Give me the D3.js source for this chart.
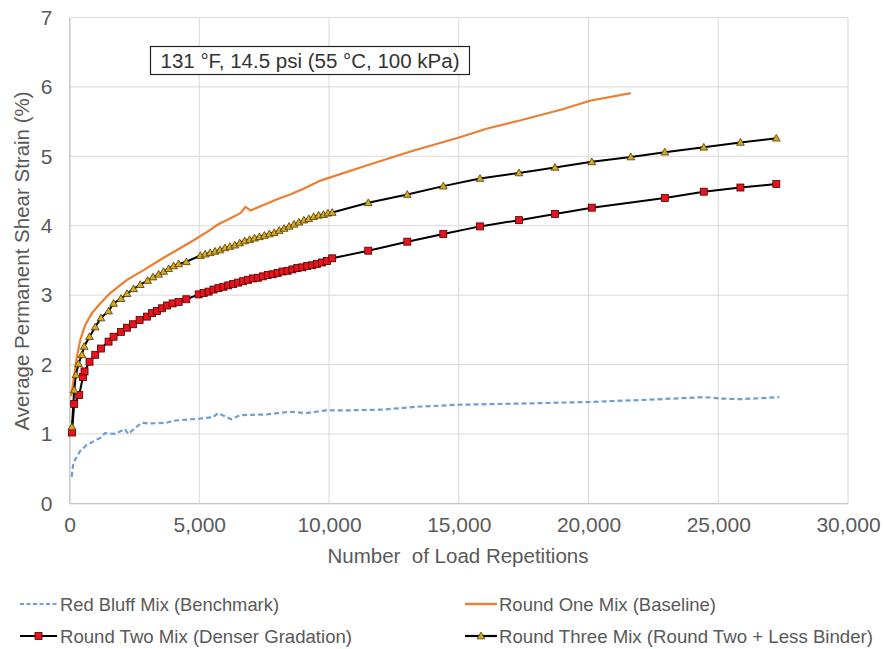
<!DOCTYPE html>
<html><head><meta charset="utf-8">
<script src="https://cdn.jsdelivr.net/npm/d3@7"></script>
<style>body{margin:0;background:#fff;} svg{display:block;font-family:"Liberation Sans",Arial,sans-serif;}</style>
</head><body><svg id="c" width="883" height="649"></svg>
<script>
// ---- data ----
const xTicks = [0,5000,10000,15000,20000,25000,30000];
const yTicks = [0,1,2,3,4,5,6,7];
const seriesNames = ["Red Bluff Mix (Benchmark)","Round One Mix (Baseline)","Round Two Mix (Denser Gradation)","Round Three Mix (Round Two + Less Binder)"];

const redBluffX = [85,147,404,660,1173,1365,1750,2135,2260,2776,3096,3738,3993,5019,5530,5723,6238,6558,7584,8480,9123,9892,10788,12070,13353,13916,15008,17774,20023,22145,24460,25039,25875,27353];
const redBluffY = [0.38,0.58,0.75,0.84,0.94,1.01,1.00,1.07,1.00,1.16,1.15,1.16,1.19,1.22,1.24,1.30,1.21,1.27,1.28,1.32,1.30,1.34,1.34,1.35,1.39,1.40,1.42,1.44,1.46,1.49,1.53,1.51,1.50,1.53];

const roundOneX = [66,155,285,413,606,864,1184,1570,2215,2855,3499,4143,4787,5428,5685,6586,6779,6972,7615,8000,8500,9000,9672,11474,13144,15008,16103,17388,18931,20062,21632];
const roundOneY = [1.54,1.78,2.11,2.35,2.57,2.74,2.88,3.03,3.22,3.36,3.51,3.65,3.79,3.94,4.01,4.18,4.27,4.22,4.32,4.38,4.45,4.53,4.65,4.87,5.07,5.27,5.40,5.52,5.67,5.80,5.91];

const roundTwoX = [93,181,374,517,579,772,992,1211,1505,1698,1983,2215,2446,2701,2986,3179,3372,3565,3758,3974,4205,4502,4977,
  5170,5360,5550,5740,5930,6120,6310,6500,6690,6880,7070,7260,7450,7640,7830,8020,8210,8400,8590,8780,8970,9160,9350,9540,9730,9920,10123,
  11512,13017,14405,15818,17323,18711,20127,22942,24442,25854,27238];
const roundTwoY = [1.02,1.43,1.56,1.82,1.90,2.04,2.14,2.23,2.33,2.40,2.47,2.53,2.58,2.64,2.69,2.74,2.77,2.81,2.85,2.88,2.90,2.94,3.01,
  3.03,3.05,3.08,3.10,3.12,3.14,3.16,3.18,3.20,3.22,3.24,3.25,3.27,3.29,3.30,3.32,3.34,3.35,3.37,3.39,3.40,3.42,3.43,3.45,3.47,3.49,3.53,
  3.64,3.77,3.88,3.99,4.08,4.17,4.26,4.40,4.49,4.55,4.60];

const roundThreeX = [93,181,247,347,478,567,772,992,1211,1505,1698,1983,2215,2469,2728,3009,3217,3434,3627,3820,4012,4205,4502,5042,
  5230,5420,5610,5800,5990,6180,6370,6560,6750,6940,7130,7320,7510,7700,7890,8080,8270,8460,8650,8840,9030,9220,9410,9600,9790,9960,10123,
  11512,13017,14405,15818,17323,18711,20127,21632,22942,24442,25854,27238];
const roundThreeY = [1.10,1.63,1.85,2.01,2.14,2.26,2.40,2.54,2.67,2.77,2.88,2.95,3.02,3.09,3.15,3.21,3.26,3.30,3.34,3.38,3.42,3.45,3.48,3.57,
  3.59,3.61,3.63,3.65,3.68,3.70,3.72,3.75,3.78,3.80,3.82,3.84,3.86,3.88,3.90,3.93,3.96,3.99,4.02,4.05,4.08,4.10,4.13,4.15,4.16,4.18,4.19,
  4.33,4.45,4.57,4.68,4.76,4.84,4.92,4.99,5.06,5.13,5.20,5.26];

// ---- drawing ----
const svg = d3.select("#c");
const L = 69.5, R = 848, T = 17.5, B = 503.3;
const x = d3.scaleLinear().domain([0,30000]).range([L,R]);
const y = d3.scaleLinear().domain([0,7]).range([B,T]);
const gridC = "#d9d9d9", txtC = "#595959";

// grid
svg.append("g").selectAll("line").data(yTicks).join("line")
  .attr("x1",L).attr("x2",R).attr("y1",d=>y(d)).attr("y2",d=>y(d))
  .attr("stroke",gridC).attr("stroke-width",1);
svg.append("g").selectAll("line").data(xTicks).join("line")
  .attr("y1",T).attr("y2",B).attr("x1",d=>x(d)).attr("x2",d=>x(d))
  .attr("stroke",gridC).attr("stroke-width",1);

// axes
const fmt = d3.format(",");
const xa = svg.append("g").attr("transform",`translate(0,${B})`)
  .call(d3.axisBottom(x).tickValues(xTicks).tickFormat(fmt).tickSize(0).tickPadding(14));
xa.select(".domain").attr("stroke","#bfbfbf");
xa.selectAll("text").attr("fill",txtC).style("font-size","21px").style("font-family","Liberation Sans, Arial, sans-serif");
const ya = svg.append("g").attr("transform",`translate(${L},0)`)
  .call(d3.axisLeft(y).tickValues(yTicks).tickFormat(d3.format("d")).tickSize(0).tickPadding(17));
ya.select(".domain").attr("stroke","#bfbfbf");
ya.selectAll("text").attr("fill",txtC).style("font-size","21px").style("font-family","Liberation Sans, Arial, sans-serif");

// axis titles
svg.append("text").attr("x",458).attr("y",563).attr("text-anchor","middle")
  .attr("fill",txtC).style("font-size","20.5px").style("white-space","pre").text("Number  of Load Repetitions");
svg.append("text").attr("transform","translate(29,261) rotate(-90)").attr("text-anchor","middle")
  .attr("fill",txtC).style("font-size","20.5px").text("Average Permanent Shear Strain (%)");

// annotation box
svg.append("rect").attr("x",150.5).attr("y",46.5).attr("width",319).attr("height",28)
  .attr("fill","#fff").attr("stroke","#222").attr("stroke-width",1.2);
svg.append("text").attr("x",310).attr("y",68).attr("text-anchor","middle").attr("fill","#333")
  .style("font-size","20.5px").text("131 °F, 14.5 psi (55 °C, 100 kPa)");

// series
const line = d3.line().x(d=>x(d[0])).y(d=>y(d[1]));
const zipS = (a,b)=>a.map((v,i)=>[v,b[i]]);
const blue = "#6c9fd6", orange = "#ed7d31";
svg.append("path").datum(zipS(redBluffX,redBluffY)).attr("d",line)
  .attr("fill","none").attr("stroke",blue).attr("stroke-width",2.2).attr("stroke-dasharray","5,3");
svg.append("path").datum(zipS(roundOneX,roundOneY)).attr("d",line)
  .attr("fill","none").attr("stroke",orange).attr("stroke-width",2.2);

const two = zipS(roundTwoX,roundTwoY), three = zipS(roundThreeX,roundThreeY);
svg.append("path").datum(three).attr("d",line).attr("fill","none").attr("stroke","#000").attr("stroke-width",2);
svg.append("path").datum(two).attr("d",line).attr("fill","none").attr("stroke","#000").attr("stroke-width",2);

const sq = 7;
svg.append("g").selectAll("rect").data(two).join("rect")
  .attr("x",d=>x(d[0])-sq/2).attr("y",d=>y(d[1])-sq/2).attr("width",sq).attr("height",sq)
  .attr("fill","#e8131b").attr("stroke","#4a0000").attr("stroke-width",0.8);
const tri = d3.symbol().type(d3.symbolTriangle).size(26);
svg.append("g").selectAll("path").data(three).join("path")
  .attr("transform",d=>`translate(${x(d[0])},${y(d[1])+0.6})`).attr("d",tri)
  .attr("fill","#d8a821").attr("stroke","#4a3a00").attr("stroke-width",0.8);

// legend
const legF = "'Liberation Sans Narrow','Arial Narrow','Liberation Sans',Arial,sans-serif";
const leg = [
  {name:seriesNames[0], x0:20, x1:57, ty:604, tx:60, w:219, kind:"dash"},
  {name:seriesNames[1], x0:465, x1:497, ty:604, tx:499, w:217, kind:"orange"},
  {name:seriesNames[2], x0:20, x1:57, ty:636, tx:60, w:292, kind:"sq"},
  {name:seriesNames[3], x0:465, x1:497, ty:636, tx:499, w:374, kind:"tri"}
];
leg.forEach(l=>{
  const g = svg.append("g");
  const ln = g.append("line").attr("x1",l.x0).attr("x2",l.x1).attr("y1",l.ty).attr("y2",l.ty);
  if(l.kind==="dash") ln.attr("stroke",blue).attr("stroke-width",2).attr("stroke-dasharray","4,2.5");
  else if(l.kind==="orange") ln.attr("stroke",orange).attr("stroke-width",2.4);
  else ln.attr("stroke","#000").attr("stroke-width",2.2);
  const mx = (l.x0+l.x1)/2;
  if(l.kind==="sq") g.append("rect").attr("x",mx-3.5).attr("y",l.ty-3.5).attr("width",7).attr("height",7)
      .attr("fill","#e8131b").attr("stroke","#4a0000").attr("stroke-width",0.8);
  if(l.kind==="tri") g.append("path").attr("transform",`translate(${mx},${l.ty+0.6})`).attr("d",tri)
      .attr("fill","#d8a821").attr("stroke","#4a3a00").attr("stroke-width",0.8);
  g.append("text").attr("x",l.tx).attr("y",l.ty+6.5).attr("fill",txtC)
    .style("font-family",legF).style("font-size","19px")
    .attr("textLength",l.w).attr("lengthAdjust","spacingAndGlyphs").text(l.name);
});
</script></body></html>
